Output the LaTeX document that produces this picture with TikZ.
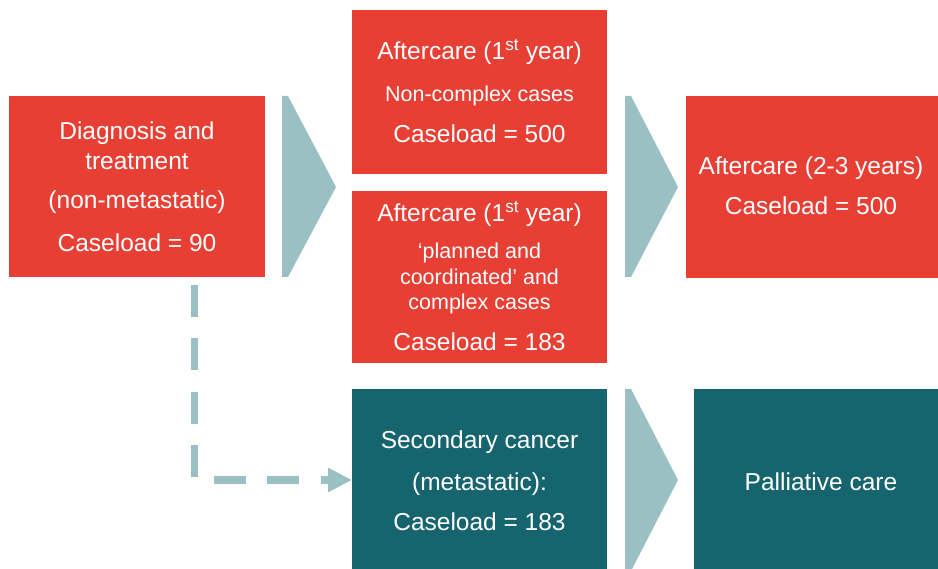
\documentclass[tikz,border=0pt]{standalone}
\usepackage{fontspec}
\setmainfont{Liberation Sans}
\usetikzlibrary{arrows.meta}
\definecolor{cred}{HTML}{E83F35}
\definecolor{cteal}{HTML}{16646E}
\definecolor{clight}{HTML}{9BC0C3}
\begin{document}
\begin{tikzpicture}[x=1pt,y=-1pt,
  boxbase/.style={draw=none, inner sep=0pt, outer sep=0pt, anchor=north west},
  redbox/.style={boxbase, fill=cred},
  tealbox/.style={boxbase, fill=cteal},
  chev/.style={fill=clight, draw=none},
  big/.style={text=white, font=\fontsize{24.5}{28}\selectfont, anchor=base, inner sep=0pt},
  small/.style={big, font=\fontsize{21.5}{25}\selectfont},
  dasharrow/.style={draw=clight, line width=7.5pt, dash pattern=on 32pt off 21.5pt,
    -{Triangle[length=24pt,width=23pt]}}]
\useasboundingbox (0,0) rectangle (938,569);
\clip (0,0) rectangle (938,569);
% boxes
\node[redbox, minimum width=256pt, minimum height=181pt] (diag) at (9,96) {};
\node[redbox, minimum width=255pt, minimum height=164pt] (a1) at (352,10) {};
\node[redbox, minimum width=255pt, minimum height=172pt] (a2) at (352,191) {};
\node[redbox, minimum width=252pt, minimum height=182pt] (a3) at (686,96) {};
\node[tealbox, minimum width=255pt, minimum height=182pt] (sec) at (352,389) {};
\node[tealbox, minimum width=244pt, minimum height=182pt] (pal) at (694,389) {};
% chevrons
\fill[chev] (282,96) -- (288,96) -- (336,187) -- (288,277) -- (282,277) -- cycle;
\fill[chev] (625,96) -- (631,96) -- (678,187) -- (631,277) -- (625,277) -- cycle;
\fill[chev] (625,389) -- (631,389) -- (678,480) -- (631,571) -- (625,571) -- cycle;
% texts
\node[big] (d1) at (137,140) {Diagnosis and};
\node[big] (d2) at (137,170) {treatment};
\node[big] (d3) at (137,209) {(non-metastatic)};
\node[big] (d4) at (137,251.5) {Caseload = 90};
\node[big] (a1t1) at (479.5,60) {Aftercare (1\textsuperscript{st} year)};
\node[small] (a1t2) at (479.5,101.7) {Non-complex cases};
\node[big] (a1t3) at (479.5,142.7) {Caseload = 500};
\node[big] (a2t1) at (479.5,221.7) {Aftercare (1\textsuperscript{st} year)};
\node[small] (a2t2) at (479.5,259) {‘planned and};
\node[small] (a2t3) at (479.5,285) {coordinated’ and};
\node[small] (a2t4) at (479.5,310) {complex cases};
\node[big] (a2t5) at (479.5,350.7) {Caseload = 183};
\node[big] (a3t1) at (811,174.3) {Aftercare (2-3 years)};
\node[big] (a3t2) at (811,215) {Caseload = 500};
\node[big] (s1) at (479.5,448.3) {Secondary cancer};
\node[big] (s2) at (479.5,490) {(metastatic):};
\node[big] (s3) at (479.5,530) {Caseload = 183};
\node[big] (p1) at (821,490) {Palliative care};
% dashed connector
\coordinate (ds) at (194.5,285);
\coordinate (dc) at (194.5,480);
\draw[dasharrow] (ds) -- (dc) -- (dc -| sec.west);
\end{tikzpicture}
\end{document}
